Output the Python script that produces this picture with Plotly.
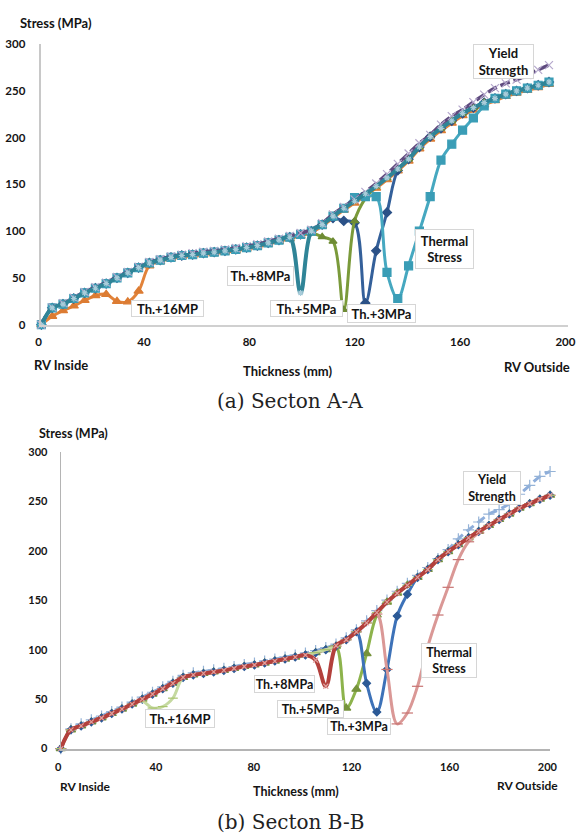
import plotly.graph_objects as go

W, H = 587, 840

# ---------------- Section A-A ----------------
X_A = [0, 4.1, 8.2, 12.3, 16.4, 20.5, 24.6, 28.7, 32.8, 36.9, 41.0, 45.1, 49.2, 53.3, 57.4, 61.5,
       65.6, 69.7, 73.8, 77.9, 82.0, 86.1, 90.2, 94.3, 98.4, 102.5, 106.6, 110.7, 114.8, 118.9,
       123.0, 127.1, 131.2, 135.3, 139.4, 143.5, 147.6, 151.7, 155.8, 159.9, 164.0, 168.1, 172.2,
       176.3, 180.4, 184.5, 188.6, 192.7]

TH16_A = [0, 9, 15, 20, 26, 31, 32.5, 25, 24.5, 36, 63, 67.5, 70.5, 72.5, 73.5, 75, 76, 77.5, 79, 81,
          83, 86, 89, 92, 95, 98.5, 105.5, 114, 122.5, 130, 138, 146, 155, 164.5, 175, 188, 198.5,
          207.5, 215.5, 223.5, 229.5, 235, 239.5, 244, 247.5, 250.5, 253.5, 257]

TH8_A = [0, 18, 22, 28, 34, 39, 44, 50, 55.5, 61, 66, 69, 72, 74, 75, 76.5, 77.5, 79, 80.5, 82.5,
         84.5, 87.5, 90.5, 93.5, 34, 100, 107, 116, 124.5, 132, 140, 148, 157, 166.5, 177, 190, 201,
         210, 218, 226, 232, 237.5, 242, 246.5, 250, 253, 256, 259.5]

TH5_A = [0, 18, 22, 28, 34, 39, 44, 50, 55.5, 61, 66, 69, 72, 74, 75, 76.5, 77.5, 79, 80.5, 82.5,
         84.5, 87.5, 90.5, 93.5, 96.5, 98, 94, 89, 16, 111, 135, 148, 157, 166.5, 177, 190, 201,
         210, 218, 226, 232, 237.5, 242, 246.5, 250, 253, 256, 259.5]

TH3_A = [0, 18, 22, 28, 34, 39, 44, 50, 55.5, 61, 66, 69, 72, 74, 75, 76.5, 77.5, 79, 80.5, 82.5,
         84.5, 87.5, 90.5, 93.5, 96.5, 100, 107, 114, 111, 109, 23, 79, 120, 165, 177, 190, 201,
         210, 218, 226, 232, 237.5, 242, 246.5, 250, 253, 256, 259.5]

THERMAL_A = [0, 18, 22, 28, 34, 39, 44, 50, 55.5, 61, 66, 69, 72, 74, 75, 76.5, 77.5, 79, 80.5, 82.5,
             84.5, 87.5, 90.5, 93.5, 96.5, 100, 107, 116, 124.5, 136, 137, 137, 56, 28, 63, 100, 137,
             176, 193, 208, 221, 234, 242, 246.5, 250, 253, 256, 259.5]

YIELD_A = [0, 18.5, 23, 29, 35, 40, 45, 51, 56.5, 62, 67, 70, 73, 75, 76.5, 78, 79, 80.5, 82, 84,
           86, 89, 92, 95, 98, 101.5, 108.5, 118, 126, 134, 142, 151, 161, 172, 183, 194, 203, 214,
           223, 230, 238, 246, 253, 258, 262, 267, 272.5, 277.5]

# ---------------- Section B-B ----------------
X_B = [0, 4.17, 8.33, 12.5, 16.67, 20.83, 25, 29.17, 33.33, 37.5, 41.67, 45.83, 50, 54.17, 58.33,
       62.5, 66.67, 70.83, 75, 79.17, 83.33, 87.5, 91.67, 95.83, 100, 104.17, 108.33, 112.5, 116.67,
       120.83, 125, 129.17, 133.33, 137.5, 141.67, 145.83, 150, 154.17, 158.33, 162.5, 166.67,
       170.83, 175, 179.17, 183.33, 187.5, 191.67, 195.83, 200]

YIELD_B = [0, 20, 25, 29, 33, 37.5, 42, 47, 52, 57, 62.5, 68, 74, 76.5, 78, 79.5, 81, 83, 85, 86.5,
           88.5, 90.5, 92.5, 94.5, 96.5, 99, 102, 105.5, 112, 120, 129, 139.5, 150, 159, 167, 175,
           183, 192, 201, 212, 221, 229, 237, 241.5, 247.5, 257, 266, 275, 280]

TH5_B = [0, 19, 23, 27, 31, 35.5, 40, 45, 50, 55, 60.5, 66, 72, 74.5, 76, 77.5, 79, 81, 83, 84.5,
         86.5, 88.5, 90.5, 92.5, 94.5, 97, 100, 103.5, 41, 60, 96, 135, 148, 157, 165, 173, 181, 191,
         199, 206, 213, 219.5, 225.5, 231.5, 237, 243, 247.5, 252, 256]

TH3_B = [0, 19, 23, 27, 31, 35.5, 40, 45, 50, 55, 60.5, 66, 72, 74.5, 76, 77.5, 79, 81, 83, 84.5,
         86.5, 88.5, 90.5, 92.5, 94.5, 97, 100, 103.5, 110, 118, 66, 37, 80, 134, 156, 173, 181, 191,
         199, 206, 213, 219.5, 225.5, 231.5, 237, 243, 247.5, 252, 256]

THERMAL_B = [0, 19, 23, 27, 31, 35.5, 40, 45, 50, 55, 60.5, 66, 72, 74.5, 76, 77.5, 79, 81, 83, 84.5,
             86.5, 88.5, 90.5, 92.5, 94.5, 97, 100, 103.5, 110, 118, 127, 136, 80, 25, 36, 63, 103,
             135, 163, 191, 209, 218, 225.5, 231.5, 237, 243, 247.5, 252, 256]

TH16_B = [0, 19, 23, 27, 31, 35.5, 40, 45, 48, 41, 42.5, 51, 72, 74.5, 76, 77.5, 79, 81, 83, 84.5,
          86.5, 88.5, 90.5, 92.5, 94.5, 97, 100, 103.5, 110, 118, 127, 137.5, 148, 157, 165, 173,
          181, 191, 199, 206, 213, 219.5, 225.5, 231.5, 237, 243, 247.5, 252, 256]

TH8_B = [0, 19, 23, 27, 31, 35.5, 40, 45, 50, 55, 60.5, 66, 72, 74.5, 76, 77.5, 79, 81, 83, 84.5,
         86.5, 88.5, 90.5, 92.5, 94.5, 89.5, 63, 104, 110, 118, 127, 137.5, 148, 157, 165, 173, 181,
         191, 199, 206, 213, 219.5, 225.5, 231.5, 237, 243, 247.5, 252, 256]

X_TICKS = [0, 40, 80, 120, 160, 200]
Y_TICKS = [0, 50, 100, 150, 200, 250, 300]

SANS = "Lato"
SERIF = "DejaVu Serif"
INK = "#141414"


def fx(px):
    return px / W


def fy(py):
    return 1 - py / H


fig = go.Figure()


def curve(x, y, axes, color, width, symbol, msize, mcolor, dash=None):
    xa, ya = axes
    fig.add_trace(go.Scatter(
        x=x, y=y, xaxis=xa, yaxis=ya, mode="lines+markers",
        line=dict(color=color, width=width, shape="spline", smoothing=1, dash=dash),
        marker=dict(symbol=symbol, size=msize, color=mcolor, line=dict(width=1.2, color=mcolor)),
        cliponaxis=False, showlegend=False, hoverinfo="skip"))


A = ("x", "y")
B = ("x2", "y2")

# Section A-A curves (bottom to top)
curve(X_A, TH16_A, A, "#E2833A", 3, "triangle-up", 8, "#DC7C33")
curve(X_A, TH3_A, A, "#34609A", 3, "diamond", 7, "#2B5187")
curve(X_A, TH5_A, A, "#7A9A3A", 3, "triangle-up", 7, "#6E8B34")
curve(X_A, THERMAL_A, A, "#46A8C0", 3, "square", 8, "#3A9DB6")
curve(X_A, YIELD_A, A, "#5E4A7E", 3.5, "x-thin-open", 8, "#B4A7CC", dash="10px,4px")
curve(X_A, TH8_A, A, "#2F8497", 4, "asterisk-open", 5, "#A9CCDA")

# Section B-B curves (bottom to top)
curve(X_B, YIELD_B, B, "#8EAEDB", 3, "cross-thin-open", 8, "#95B3D7", dash="9px,5px")
curve(X_B, TH5_B, B, "#8DB34C", 3, "triangle-up", 8, "#76933C")
curve(X_B, TH3_B, B, "#3D72B8", 3, "diamond", 6, "#2C5A96")
curve(X_B, THERMAL_B, B, "#DA9896", 3, "line-ew-open", 8, "#C77371")
curve(X_B, TH16_B, B, "#C5D9A0", 3, "line-ew-open", 7, "#A9C46E")
curve(X_B, TH8_B, B, "#B3403C", 4, "x-thin-open", 5, "#E0A09E")

x_text = [f"{v}\u00a0\u00a0" for v in X_TICKS]
common = dict(showgrid=False, zeroline=False, showline=True, ticks="")
font_a = dict(family=SANS, size=11.5, color=INK, weight="bold")
font_b = dict(family=SANS, size=11, color=INK, weight="bold")

fig.update_layout(
    width=W, height=H, autosize=False,
    margin=dict(l=0, r=0, t=0, b=0),
    paper_bgcolor="white", plot_bgcolor="white",
    xaxis=dict(domain=[fx(36.5), fx(580)], range=[0, 200], anchor="y", tickvals=X_TICKS,
               ticktext=x_text, linecolor="#D0D0D0", linewidth=2, ticklabelstandoff=5,
               tickfont=font_a, **common),
    yaxis=dict(domain=[fy(322.7), fy(37.7)], range=[0, 300], anchor="x", tickvals=Y_TICKS,
               linecolor="#C8C8C8", linewidth=1.5, ticklabelstandoff=12, tickfont=font_a, **common),
    xaxis2=dict(domain=[fx(56.5), fx(561.3)], range=[0, 200], anchor="y2", tickvals=X_TICKS,
                ticktext=x_text, linecolor="#B4B4B4", linewidth=1.5, ticklabelstandoff=7,
                tickfont=font_b, **common),
    yaxis2=dict(domain=[fy(753.3), fy(451.7)], range=[0, 300], anchor="x2", tickvals=Y_TICKS,
                linecolor="#B4B4B4", linewidth=1.2, ticklabelstandoff=10, tickfont=font_b, **common),
)


def box(text, cx, cy, w, h, size):
    return dict(text=text, xref="paper", yref="paper", x=fx(cx), y=fy(cy),
                xanchor="center", yanchor="middle", showarrow=False,
                width=w - 2, height=h - 2, borderpad=0, borderwidth=1,
                bordercolor="#D6D6D6", bgcolor="white", align="center", valign="middle",
                font=dict(family=SANS, size=size, color=INK, weight="bold"))


def label(text, cx, cy, size, xanchor="center", family=SANS, weight="bold", color=INK):
    return dict(text=text, xref="paper", yref="paper", x=fx(cx), y=fy(cy),
                xanchor=xanchor, yanchor="middle", showarrow=False,
                font=dict(family=family, size=size, color=color, weight=weight))


annotations = [
    # Section A-A
    box("Yield<br>Strength", 513.5, 55.5, 61, 35, 13),
    box("Thermal<br>Stress", 452.2, 245.8, 59, 40, 13),
    box("Th.+3MPa", 387.5, 311.4, 69, 19, 13),
    box("Th.+5MPa", 309.5, 306.5, 73, 17, 13),
    box("Th.+8MPa", 262.5, 273, 67, 20, 13),
    box("Th.+16MP", 166.5, 306.5, 73, 17, 13),
    label("Stress (MPa)", 12, 16, 13, xanchor="left"),
    label("RV Inside", 56.5, 364, 13),
    label("Thickness (mm)", 290.5, 370, 13),
    label("RV Outside", 547.5, 366, 13),
    label("(a) Secton A-A", 293, 400, 20, family=SERIF, weight="normal", color="#222222"),
    # Section B-B
    box("Yield<br>Strength", 501.7, 488.7, 58, 34, 12.5),
    box("Thermal<br>Stress", 457, 663.3, 56, 35, 12.5),
    box("Th.+3MPa", 363.8, 731.3, 64, 17, 12.5),
    box("Th.+5MPa", 314.3, 713.2, 67, 18, 12.5),
    box("Th.+8MPa", 287.5, 688, 61, 18, 12.5),
    box("Th.+16MP", 180, 722.2, 70, 19, 13),
    label("Stress (MPa)", 32, 433, 12.5, xanchor="left"),
    label("RV Inside", 82, 792, 12),
    label("Thickness (mm)", 299, 797, 12.5),
    label("RV Outside", 538, 791, 12),
    label("(b) Secton B-B", 293.5, 828, 20, family=SERIF, weight="normal", color="#222222"),
]
fig.update_layout(annotations=annotations)

fig.write_html("out.html")
